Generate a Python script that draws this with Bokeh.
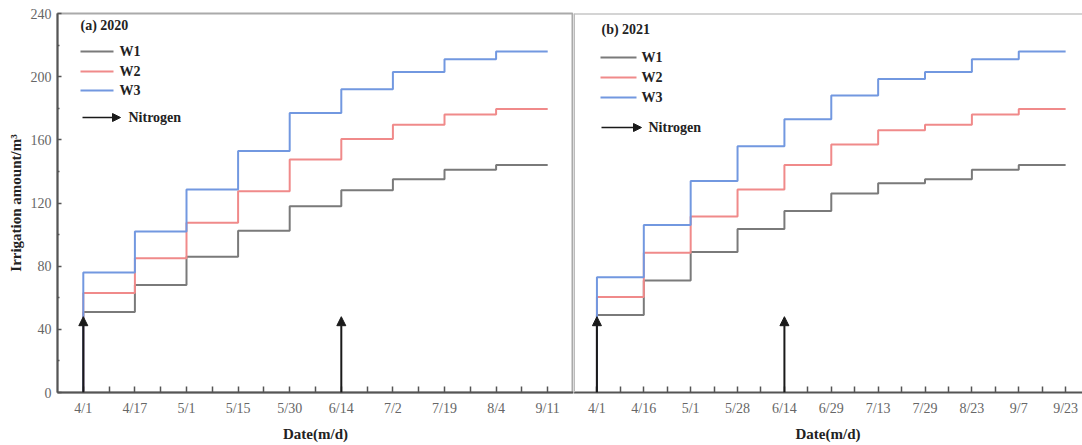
from bokeh.plotting import figure
from bokeh.layouts import row
from bokeh.models import FixedTicker, Range1d, Span, Arrow, NormalHead, Label
from bokeh.embed import file_html
from bokeh.resources import INLINE

# ---------------- data ----------------
dates_2020 = ["4/1", "4/17", "5/1", "5/15", "5/30", "6/14", "7/2", "7/19", "8/4", "9/11"]
w1_2020 = [51, 68, 86, 102.5, 118, 128, 135, 141, 144]
w2_2020 = [63, 85, 107.5, 127.5, 147.5, 160.5, 169.5, 176, 179.5]
w3_2020 = [76, 102, 128.5, 153, 177, 192, 203, 211, 216]
nitrogen_2020 = ["4/1", "6/14"]

dates_2021 = ["4/1", "4/16", "5/1", "5/28", "6/14", "6/29", "7/13", "7/29", "8/23", "9/7", "9/23"]
w1_2021 = [49, 71, 89, 103.5, 115, 126, 132.5, 135, 141, 144]
w2_2021 = [60.5, 88.5, 111.5, 128.5, 144, 157, 166, 169.5, 176, 179.5]
w3_2021 = [73, 106, 134, 156, 173, 188, 198.5, 203, 211, 216]
nitrogen_2021 = ["4/1", "6/14"]

nitrogen_arrow_top = 48
y_ticks = [0, 40, 80, 120, 160, 200, 240]
y_minor = [20, 60, 100, 140, 180, 220]
series_names = ["W1", "W2", "W3"]
series_colors = ["#7a7a7a", "#f08a8a", "#7298e0"]

FONT = "Liberation Serif"
H = 445
TOP, BOTTOM = 13, 392


def make_panel(dates, series, nitrogen, title, width, page_left, frame_left, x_end, show_y, leg):
    p = figure(width=width, height=H, x_range=Range1d(-0.5, x_end), y_range=Range1d(0, 240),
               output_backend="svg", toolbar_location=None,
               min_border_top=TOP, min_border_bottom=H - BOTTOM,
               min_border_left=frame_left, min_border_right=0)
    p.grid.visible = False
    p.background_fill_color = "white"
    p.border_fill_color = "white"
    frame_w = width - frame_left
    frame_page_left = page_left + frame_left

    def dx(px):
        return -0.5 + (px - frame_page_left) * (x_end + 0.5) / frame_w

    def dy(py):
        return 240 * (BOTTOM - py) / (BOTTOM - TOP)

    # step lines
    for vals, name, col in zip(series, series_names, series_colors):
        xs = [0] + list(range(len(vals) + 1))
        ys = [0] + list(vals) + [vals[-1]]
        p.step(xs, ys, mode="after", line_color=col, line_width=2)

    # nitrogen arrows
    for d in nitrogen:
        i = dates.index(d)
        p.add_layout(Arrow(x_start=i, y_start=0, x_end=i, y_end=nitrogen_arrow_top,
                           line_color="#1a1a1a", line_width=2,
                           end=NormalHead(size=9, fill_color="#1a1a1a", line_color="#1a1a1a")))

    # x axis
    xa = p.xaxis[0]
    xa.ticker = FixedTicker(ticks=list(range(len(dates))),
                            minor_ticks=[i + 0.5 for i in range(len(dates) - 1)])
    xa.major_label_overrides = {i: d for i, d in enumerate(dates)}
    xa.axis_label = "Date(m/d)"
    # y axis
    ya = p.yaxis[0]
    ya.ticker = FixedTicker(ticks=y_ticks, minor_ticks=y_minor)
    ya.axis_label = "Irrigation amount/m\u00b3"
    for ax in (xa, ya):
        ax.axis_line_color = "#555555"
        ax.axis_line_width = 2
        ax.major_tick_line_color = "#555555"
        ax.minor_tick_line_color = "#555555"
        ax.major_tick_line_width = 1.5
        ax.minor_tick_line_width = 1.5
        ax.major_tick_out = 0
        ax.minor_tick_out = 0
        ax.major_label_text_font = FONT
        ax.major_label_text_font_size = "14px"
        ax.major_label_text_color = "#666666"
        ax.axis_label_text_font = FONT
        ax.axis_label_text_font_size = "15px"
        ax.axis_label_text_font_style = "bold"
        ax.axis_label_text_color = "#222222"
    xa.major_tick_in = 6
    xa.minor_tick_in = 6
    xa.major_label_standoff = 8
    xa.axis_label_standoff = 7
    ya.major_tick_in = 4
    ya.minor_tick_in = 2
    ya.major_label_standoff = 6
    ya.axis_label_standoff = 4
    if not show_y:
        ya.visible = False

    # legend (drawn by hand so that the arrow entry fits)
    tx, ty, lx0, lx1, ltx, ly, ax0, ax1, atx, ay = leg
    p.add_layout(Label(x=dx(tx), y=dy(ty), text=title, text_font=FONT, text_font_style="bold",
                       text_font_size="14px", text_baseline="middle", text_color="#222222"))
    for k, (name, col) in enumerate(zip(series_names, series_colors)):
        yy = dy(ly[k])
        p.segment(x0=[dx(lx0)], y0=[yy], x1=[dx(lx1)], y1=[yy], line_color=col, line_width=2)
        p.add_layout(Label(x=dx(ltx), y=yy, text=name, text_font=FONT, text_font_style="bold",
                           text_font_size="14px", text_baseline="middle", text_color="#222222"))
    p.add_layout(Arrow(x_start=dx(ax0), y_start=dy(ay), x_end=dx(ax1), y_end=dy(ay),
                       line_color="#1a1a1a", line_width=1.5,
                       end=NormalHead(size=8, fill_color="#1a1a1a", line_color="#1a1a1a")))
    p.add_layout(Label(x=dx(atx), y=dy(ay), text="Nitrogen", text_font=FONT, text_font_style="bold",
                       text_font_size="14px", text_baseline="middle", text_color="#222222"))
    return p


p1 = make_panel(dates_2020, [w1_2020, w2_2020, w3_2020], nitrogen_2020, "(a) 2020",
                573, 0, 57, 9.5, True,
                (80, 25, 80, 113, 119, [51, 71, 90], 82, 120, 128, 117))
p1.outline_line_color = "#aaaaaa"
p1.outline_line_width = 2

p2 = make_panel(dates_2021, [w1_2021, w2_2021, w3_2021], nitrogen_2021, "(b) 2021",
                509, 573, 0, 10.36, False,
                (601, 29, 600, 636, 641, [57, 77, 97], 601, 641, 648, 127))
p2.outline_line_color = None
p2.add_layout(Span(location=240, dimension="width", line_color="#aaaaaa", line_width=2))
p2.add_layout(Span(location=-0.5, dimension="height", line_color="#bbbbbb", line_width=3))

layout = row(p1, p2)
open("out.html", "w").write(file_html(layout, INLINE))
